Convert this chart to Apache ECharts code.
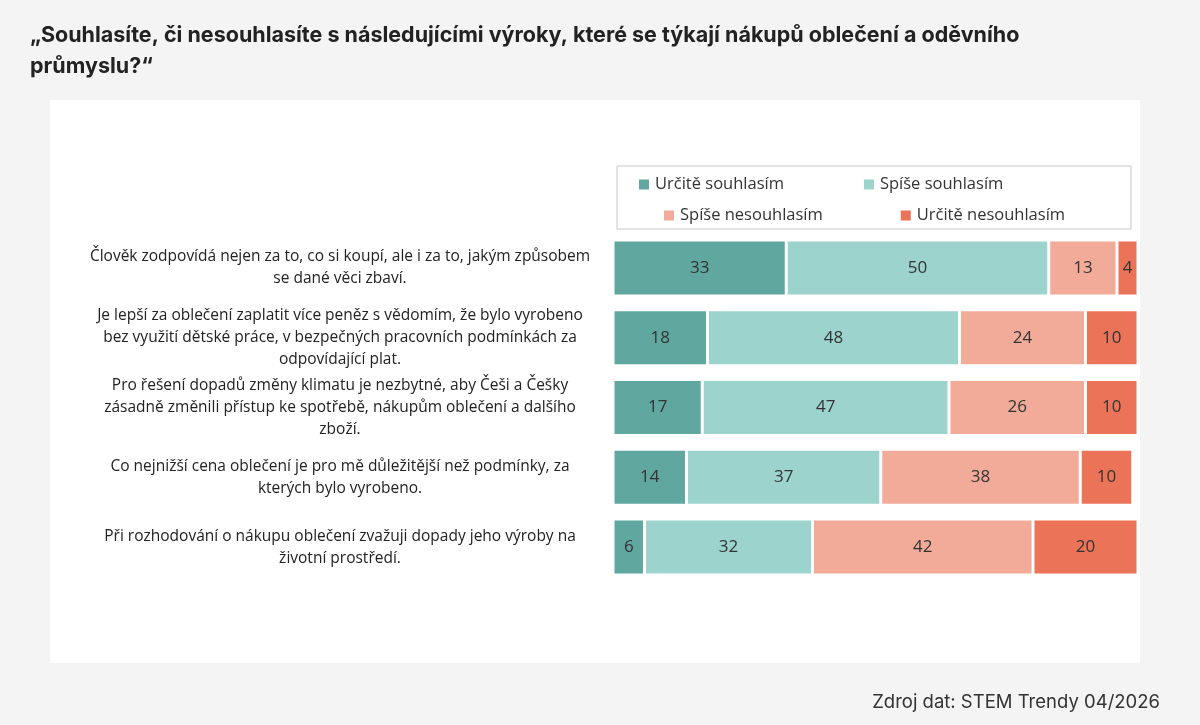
<!DOCTYPE html><html><head><meta charset="utf-8"><script src="https://cdn.jsdelivr.net/npm/echarts@6/dist/echarts.min.js"></script>
<style>html,body{margin:0;background:#f4f4f4}#c{width:1200px;height:725px}</style></head><body><div id="c"></div><script>
const categories=["Člověk zodpovídá nejen za to, co si koupí, ale i za to, jakým způsobem\nse dané věci zbaví.","Je lepší za oblečení zaplatit více peněz s vědomím, že bylo vyrobeno\nbez využití dětské práce, v bezpečných pracovních podmínkách za\nodpovídající plat.","Pro řešení dopadů změny klimatu je nezbytné, aby Češi a Češky\nzásadně změnili přístup ke spotřebě, nákupům oblečení a dalšího\nzboží.","Co nejnižší cena oblečení je pro mě důležitější než podmínky, za\nkterých bylo vyrobeno.","Při rozhodování o nákupu oblečení zvažuji dopady jeho výroby na\nživotní prostředí."];
const seriesNames=["Určitě souhlasím","Spíše souhlasím","Spíše nesouhlasím","Určitě nesouhlasím"];
const vUrciteAno=[33,18,17,14,6];
const vSpiseAno=[50,48,47,37,32];
const vSpiseNe=[13,24,26,38,42];
const vUrciteNe=[4,10,10,10,20];
const colors=["#5fa79f","#9dd3cd","#f1ab98","#ea7358"];
const vals=[vUrciteAno,vSpiseAno,vSpiseNe,vUrciteNe];
const ch=echarts.init(document.getElementById('c'));
ch.setOption({
 backgroundColor:'#f4f4f4',
 textStyle:{fontFamily:'Open Sans'},
 title:[{text:'„Souhlasíte, či nesouhlasíte s následujícími výroky, které se týkají nákupů oblečení a oděvního\nprůmyslu?“',left:25,top:15,textStyle:{fontFamily:'Inter',fontSize:21.5,fontWeight:'bold',color:'#222',lineHeight:31}},
 {text:'Zdroj dat: STEM Trendy 04/2026',right:35,top:688,textStyle:{fontFamily:'Inter',fontSize:18.5,fontWeight:'normal',color:'#333'}}],
 graphic:[{type:'rect',z:-10,shape:{x:50,y:100,width:1090,height:563},style:{fill:'#fff'}},
  {type:'rect',z:-5,shape:{x:617,y:166,width:514,height:63},style:{fill:'none',stroke:'#c8c8c8',lineWidth:1}}],
 legend:[{data:seriesNames.slice(0,2),left:632,top:171,itemGap:78,itemWidth:12,itemHeight:12,icon:'rect',textStyle:{fontSize:16.5,color:'#333'}},
  {data:seriesNames.slice(2),left:657,top:202,itemGap:76,itemWidth:12,itemHeight:12,icon:'rect',textStyle:{fontSize:16.5,color:'#333'}}],
 grid:{left:613,right:62,top:233,bottom:143},
 xAxis:{type:'value',min:0,max:100,show:false},
 yAxis:{type:'category',inverse:true,data:categories,axisLine:{show:false},axisTick:{show:false},axisLabel:{margin:273,fontSize:15.5,color:'#222',lineHeight:22,align:'center'}},
 series:seriesNames.map((n,i)=>({name:n,type:'bar',stack:'a',data:vals[i],barWidth:56,itemStyle:{color:colors[i],borderColor:'#fff',borderWidth:1.5},
  label:{show:true,position:'inside',fontSize:17,color:'#333'}}))
});
</script></body></html>
